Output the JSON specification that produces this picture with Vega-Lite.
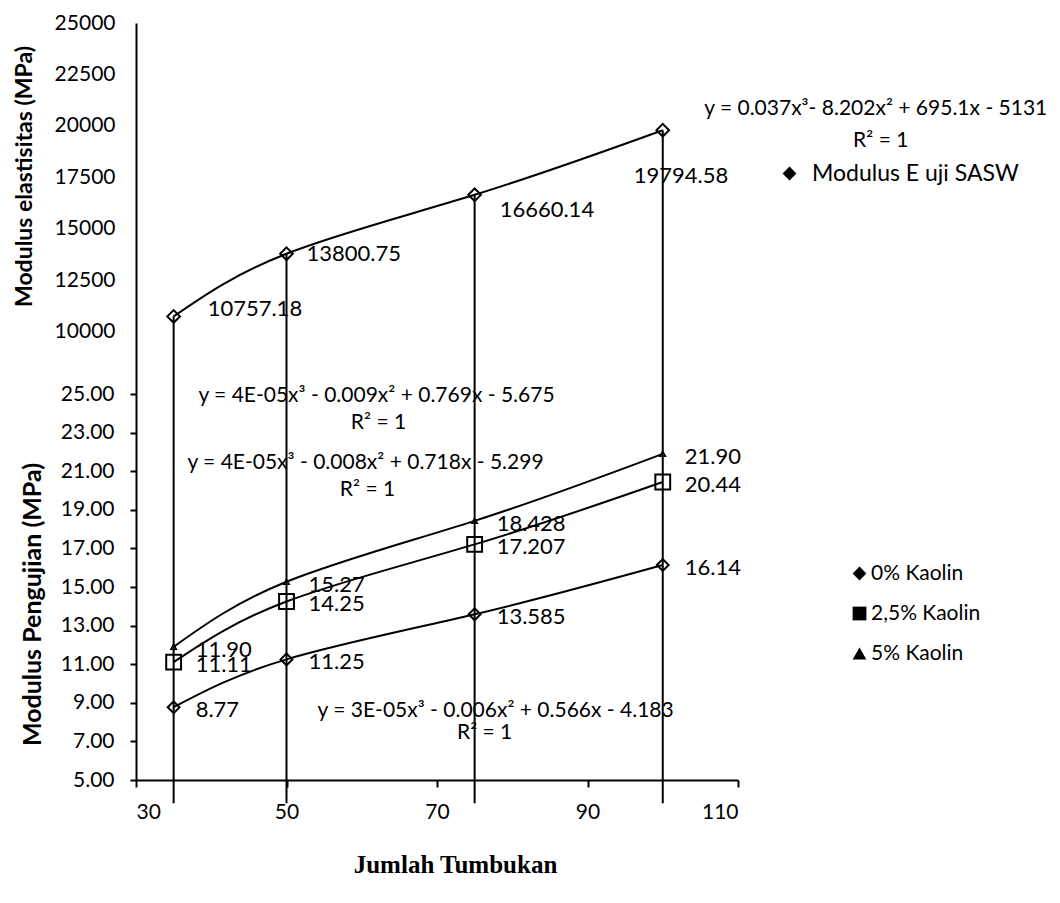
{
  "$schema": "https://vega.github.io/schema/vega-lite/v6.json",
  "background": "white",
  "padding": {"left": 13, "top": 12, "right": 5, "bottom": 5},
  "config": {
    "font": "Lato",
    "view": {"stroke": null},
    "axis": {"grid": false, "domainColor": "black", "domainWidth": 2, "tickColor": "black", "tickWidth": 2, "labelColor": "black", "titleColor": "black", "labelFont": "Lato", "labelFontSize": 21, "titleFont": "Lato"},
    "legend": {"labelFont": "Lato", "labelFontSize": 21, "labelColor": "black", "padding": 0, "labelLimit": 400},
    "text": {"font": "Lato", "fontSize": 22, "color": "black"}
  },
  "spacing": 0,
  "bounds": "flush",
  "resolve": {"scale": {"x": "independent", "y": "independent", "shape": "independent"}, "legend": {"shape": "independent"}},
  "vconcat": [
    {
      "width": 602,
      "height": 371,
      "data": {"values": [
        {"n": 35, "e": 10757.18, "label": "10757.18", "series": "Modulus E uji SASW"},
        {"n": 50, "e": 13800.75, "label": "13800.75", "series": "Modulus E uji SASW"},
        {"n": 75, "e": 16660.14, "label": "16660.14", "series": "Modulus E uji SASW"},
        {"n": 100, "e": 19794.58, "label": "19794.58", "series": "Modulus E uji SASW"}
      ]},
      "encoding": {
        "x": {"field": "n", "type": "quantitative", "scale": {"domain": [30, 110], "nice": false, "zero": false}, "axis": null},
        "y": {"field": "e", "type": "quantitative", "scale": {"domain": [6990, 25000], "nice": false, "zero": false},
          "axis": {"values": [10000, 12500, 15000, 17500, 20000, 22500, 25000], "format": "d", "ticks": false, "labelPadding": 21, "title": "Modulus elastisitas (MPa)", "titleFontSize": 23, "titleFontWeight": "bold", "titlePadding": 18, "titleY": 153}}
      },
      "layer": [
        {"mark": {"type": "rule", "color": "black", "strokeWidth": 2}, "encoding": {"y2": {"value": "height"}}},
        {"mark": {"type": "line", "interpolate": "natural", "color": "black", "strokeWidth": 2}, "encoding": {}},
        {"mark": {"type": "point", "shape": "diamond", "filled": false, "color": "black", "strokeWidth": 2, "size": 160, "opacity": 1}, "encoding": {}},
        {"transform": [{"filter": "false"}], "mark": {"type": "point", "filled": true, "color": "black", "opacity": 1},
          "encoding": {"shape": {"field": "series", "type": "nominal", "scale": {"domain": ["Modulus E uji SASW"], "range": ["diamond"]},
            "legend": {"title": null, "orient": "none", "legendX": 642, "legendY": 139, "symbolSize": 190, "labelOffset": 11, "labelFontSize": 23}}}},
        {"transform": [{"filter": "datum.n === 35"}], "mark": {"type": "text", "align": "left", "baseline": "middle", "dx": 34, "dy": -7}, "encoding": {"text": {"field": "label"}}},
        {"transform": [{"filter": "datum.n === 50"}], "mark": {"type": "text", "align": "left", "baseline": "middle", "dx": 20, "dy": 0}, "encoding": {"text": {"field": "label"}}},
        {"transform": [{"filter": "datum.n === 75"}], "mark": {"type": "text", "align": "left", "baseline": "middle", "dx": 25, "dy": 15}, "encoding": {"text": {"field": "label"}}},
        {"transform": [{"filter": "datum.n === 100"}], "mark": {"type": "text", "align": "left", "baseline": "middle", "dx": -29, "dy": 46}, "encoding": {"text": {"field": "label"}}},
        {"transform": [{"filter": "datum.n === 100"}], "mark": {"type": "text", "align": "center", "baseline": "middle", "fontSize": 21, "dx": 213, "dy": -21}, "encoding": {"text": {"value": "y = 0.037x³- 8.202x² + 695.1x - 5131"}}},
        {"transform": [{"filter": "datum.n === 100"}], "mark": {"type": "text", "align": "center", "baseline": "middle", "fontSize": 21, "dx": 218, "dy": 11}, "encoding": {"text": {"value": "R² = 1"}}}
      ]
    },
    {
      "width": 602,
      "height": 386,
      "data": {"values": [
        {"n": 35, "series": "0% Kaolin", "v": 8.77, "label": "8.77"},
        {"n": 50, "series": "0% Kaolin", "v": 11.25, "label": "11.25"},
        {"n": 75, "series": "0% Kaolin", "v": 13.585, "label": "13.585"},
        {"n": 100, "series": "0% Kaolin", "v": 16.14, "label": "16.14"},
        {"n": 35, "series": "2,5% Kaolin", "v": 11.11, "label": "11.11"},
        {"n": 50, "series": "2,5% Kaolin", "v": 14.25, "label": "14.25"},
        {"n": 75, "series": "2,5% Kaolin", "v": 17.207, "label": "17.207"},
        {"n": 100, "series": "2,5% Kaolin", "v": 20.44, "label": "20.44"},
        {"n": 35, "series": "5% Kaolin", "v": 11.90, "label": "11.90"},
        {"n": 50, "series": "5% Kaolin", "v": 15.27, "label": "15.27"},
        {"n": 75, "series": "5% Kaolin", "v": 18.428, "label": "18.428"},
        {"n": 100, "series": "5% Kaolin", "v": 21.90, "label": "21.90"}
      ]},
      "encoding": {
        "x": {"field": "n", "type": "quantitative", "scale": {"domain": [30, 110], "nice": false, "zero": false},
          "axis": {"values": [30, 50, 70, 90, 110], "tickSize": 7, "labelPadding": 14, "labelAngle": 0, "title": "Jumlah Tumbukan", "titleFont": "Liberation Serif", "titleFontSize": 25, "titleFontWeight": "bold", "titlePadding": 30, "titleX": 319, "titleAlign": "center"}},
        "y": {"field": "v", "type": "quantitative", "scale": {"domain": [5, 25], "nice": false, "zero": false},
          "axis": {"values": [5, 7, 9, 11, 13, 15, 17, 19, 21, 23, 25], "format": ".2f", "tickSize": 6, "labelPadding": 16, "title": "Modulus Pengujian (MPa)", "titleFontSize": 25, "titleFontWeight": "bold", "titlePadding": 15, "titleY": 210}}
      },
      "layer": [
        {"transform": [{"filter": "datum.series === '0% Kaolin'"}], "mark": {"type": "rule", "color": "black", "strokeWidth": 2}, "encoding": {"y": {"datum": 25}, "y2": {"datum": 3.8}}},
        {"mark": {"type": "line", "interpolate": "natural", "color": "black", "strokeWidth": 2}, "encoding": {"detail": {"field": "series"}}},
        {"transform": [{"filter": "datum.series === '0% Kaolin'"}], "mark": {"type": "point", "shape": "diamond", "filled": false, "color": "black", "strokeWidth": 2, "size": 140, "opacity": 1}, "encoding": {}},
        {"transform": [{"filter": "datum.series === '2,5% Kaolin'"}], "mark": {"type": "point", "shape": "square", "filled": false, "color": "black", "strokeWidth": 2, "size": 220, "opacity": 1}, "encoding": {}},
        {"transform": [{"filter": "datum.series === '5% Kaolin'"}], "mark": {"type": "point", "shape": "triangle-up", "filled": false, "color": "black", "strokeWidth": 1.5, "size": 30, "opacity": 1}, "encoding": {}},
        {"transform": [{"filter": "false"}], "mark": {"type": "point", "filled": true, "color": "black", "opacity": 1},
          "encoding": {"shape": {"field": "series", "type": "nominal", "scale": {"domain": ["0% Kaolin", "2,5% Kaolin", "5% Kaolin"], "range": ["diamond", "square", "triangle-up"]},
            "legend": {"title": null, "orient": "none", "legendX": 713, "legendY": 169, "symbolSize": 190, "rowPadding": 18, "labelOffset": 1, "labelFontSize": 21}}}},
        {"mark": {"type": "text", "align": "left", "baseline": "middle", "dx": 22, "dy": 3}, "encoding": {"text": {"field": "label"}}},
        {"transform": [{"filter": "datum.series === '5% Kaolin' && datum.n === 50"}], "mark": {"type": "text", "align": "center", "baseline": "middle", "fontSize": 21, "dx": 90, "dy": -186}, "encoding": {"text": {"value": "y = 4E-05x³ - 0.009x² + 0.769x - 5.675"}}},
        {"transform": [{"filter": "datum.series === '5% Kaolin' && datum.n === 50"}], "mark": {"type": "text", "align": "center", "baseline": "middle", "fontSize": 21, "dx": 92, "dy": -159}, "encoding": {"text": {"value": "R² = 1"}}},
        {"transform": [{"filter": "datum.series === '5% Kaolin' && datum.n === 50"}], "mark": {"type": "text", "align": "center", "baseline": "middle", "fontSize": 21, "dx": 79, "dy": -119}, "encoding": {"text": {"value": "y = 4E-05x³ - 0.008x² + 0.718x - 5.299"}}},
        {"transform": [{"filter": "datum.series === '5% Kaolin' && datum.n === 50"}], "mark": {"type": "text", "align": "center", "baseline": "middle", "fontSize": 21, "dx": 81, "dy": -92}, "encoding": {"text": {"value": "R² = 1"}}},
        {"transform": [{"filter": "datum.series === '0% Kaolin' && datum.n === 75"}], "mark": {"type": "text", "align": "center", "baseline": "middle", "fontSize": 21, "dx": 21, "dy": 97}, "encoding": {"text": {"value": "y = 3E-05x³ - 0.006x² + 0.566x - 4.183"}}},
        {"transform": [{"filter": "datum.series === '0% Kaolin' && datum.n === 75"}], "mark": {"type": "text", "align": "center", "baseline": "middle", "fontSize": 21, "dx": 10, "dy": 119}, "encoding": {"text": {"value": "R² = 1"}}}
      ]
    }
  ]
}
